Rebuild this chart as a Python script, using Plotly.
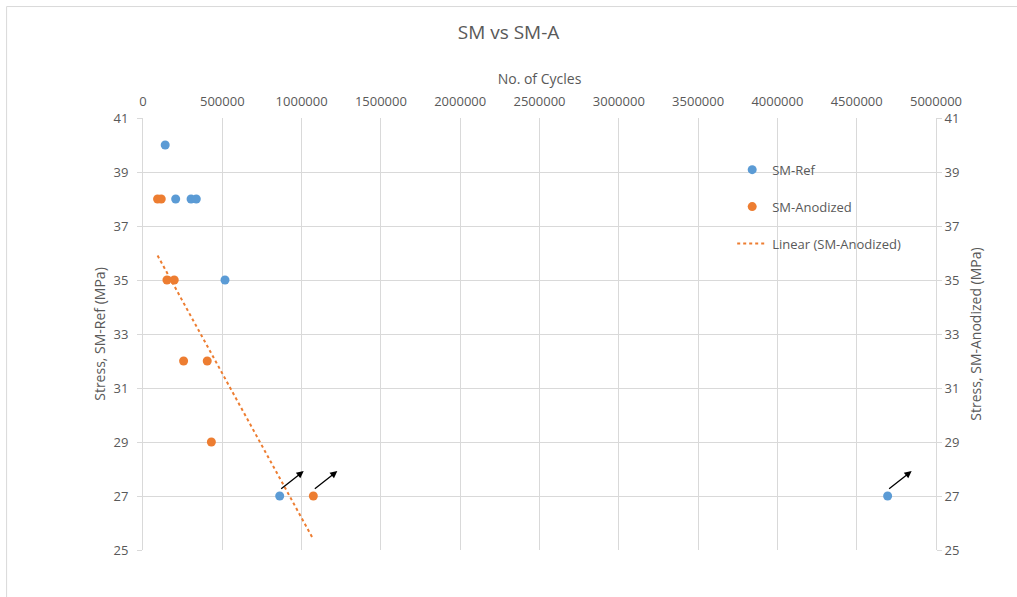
import numpy as np
import plotly.graph_objects as go

# Fatigue test results: cycles to failure vs applied stress
ref_cycles = [140000, 206000, 303000, 336000, 517000, 862000, 4695000]
ref_stress = [40, 38, 38, 38, 35, 27, 27]

anod_cycles = [92000, 115000, 151000, 197000, 256000, 405000, 431000, 1074000]
anod_stress = [38, 38, 35, 35, 32, 32, 29, 27]

# Specimens that did not fail (run-outs), marked with an arrow
runouts = [(862000, 27), (1074000, 27), (4695000, 27)]

x_ticks = list(range(0, 5000001, 500000))
y_ticks = list(range(25, 42, 2))

BLUE = "#5B9BD5"
ORANGE = "#ED7D31"
TEXT = "#595959"
GRID = "#D9D9D9"
FONT = "Open Sans, Liberation Sans, sans-serif"

# Least-squares trend of the anodized series, drawn over its data span
slope, intercept = np.polyfit(anod_cycles, anod_stress, 1)
trend_x = np.array([min(anod_cycles), max(anod_cycles)])
trend_y = slope * trend_x + intercept

fig = go.Figure()
fig.add_trace(go.Scatter(
    x=ref_cycles, y=ref_stress, mode="markers", name="SM-Ref",
    marker=dict(color=BLUE, size=9), legendgroup="a",
))
fig.add_trace(go.Scatter(
    x=anod_cycles, y=anod_stress, mode="markers", name="SM-Anodized",
    marker=dict(color=ORANGE, size=9), yaxis="y2", legendgroup="b",
))
fig.add_trace(go.Scatter(
    x=trend_x, y=trend_y, mode="lines", name="Linear (SM-Anodized)",
    line=dict(color=ORANGE, width=2, dash="dot"), yaxis="y2", legendgroup="c",
))

for cx, cy in runouts:
    fig.add_annotation(
        x=cx, y=cy, xref="x", yref="y", text="",
        showarrow=True, arrowhead=2, arrowsize=1.1, arrowwidth=1.3,
        arrowcolor="black", ax=-24, ay=19, xshift=24, yshift=25,
    )

# Outer chart frame
fig.add_shape(
    type="rect", xref="paper", yref="paper",
    x0=-0.172, x1=1.2, y0=-0.3, y1=1.258,
    line=dict(color=GRID, width=1), fillcolor="rgba(0,0,0,0)", layer="below",
)

axis_common = dict(
    range=[25, 41], tickvals=y_ticks, showgrid=True, gridcolor=GRID,
    zeroline=False, showline=True, linecolor=GRID, linewidth=1,
    ticks="outside", ticklen=5, tickcolor=GRID,
    tickfont=dict(size=13, color=TEXT, family=FONT),
)

fig.update_layout(
    width=1017, height=597,
    margin=dict(l=143, r=81, t=118, b=47),
    paper_bgcolor="white", plot_bgcolor="white",
    font=dict(family=FONT, color=TEXT),
    title=dict(text="SM vs SM-A", x=0.5, xanchor="center", y=0.945, yanchor="middle",
               font=dict(size=19, color=TEXT, family=FONT)),
    xaxis=dict(
        side="top", range=[0, 5000000], tickvals=x_ticks,
        ticktext=[str(v) for v in x_ticks],
        showgrid=True, gridcolor=GRID, zeroline=False, showline=False,
        ticks="", ticklabelstandoff=8,
        tickfont=dict(size=13, color=TEXT, family=FONT),
        title=dict(text="No. of Cycles", font=dict(size=14, color=TEXT, family=FONT), standoff=4),
    ),
    yaxis=dict(
        **axis_common, ticklabelstandoff=6,
        title=dict(text="Stress, SM-Ref (MPa)", font=dict(size=14, color=TEXT, family=FONT), standoff=4),
    ),
    yaxis2=dict(
        **axis_common, overlaying="y", side="right",
        title=dict(text="Stress, SM-Anodized (MPa)", font=dict(size=14, color=TEXT, family=FONT), standoff=12),
    ),
    legend=dict(
        x=0.743, y=0.915, xanchor="left", yanchor="top",
        bgcolor="rgba(0,0,0,0)", font=dict(size=13, color=TEXT, family=FONT),
        tracegroupgap=17,
    ),
    showlegend=True,
)

fig.write_html("out.html")
